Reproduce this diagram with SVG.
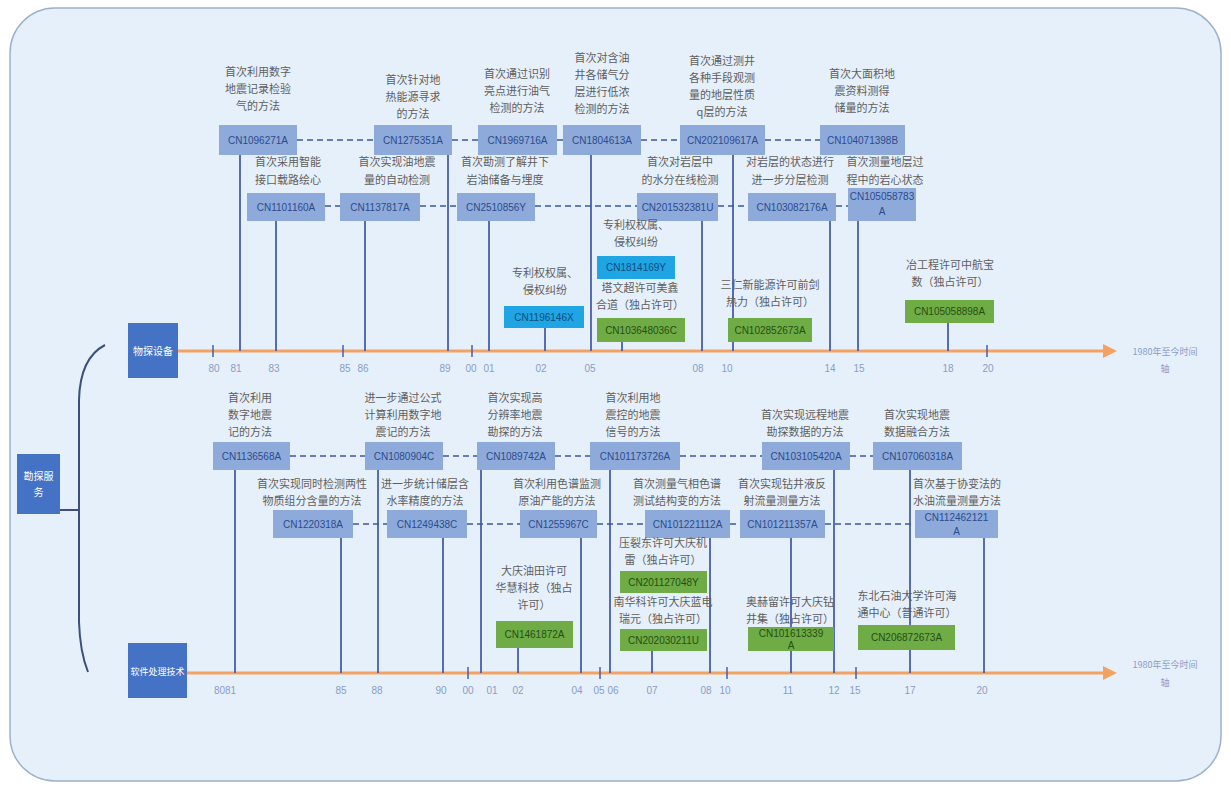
<svg xmlns="http://www.w3.org/2000/svg" width="1231" height="789" viewBox="0 0 1231 789">
<style>
.lbl{font-family:"Noto Sans CJK SC","Noto Sans",sans-serif;font-size:11px;fill:#5e5e5e;text-anchor:middle}
.pn{fill:#8eaadb}
.pt{font-family:"Liberation Sans",sans-serif;font-size:10px;fill:#2c4a8c;text-anchor:middle}
.cy{fill:#1fa4e4}
.cyt{font-family:"Liberation Sans",sans-serif;font-size:10px;fill:#0d4d7d;text-anchor:middle}
.gr{fill:#6fac46}
.grt{font-family:"Liberation Sans",sans-serif;font-size:10px;fill:#244f12;text-anchor:middle}
.ax{fill:#4472c4}
.axt{font-family:"Noto Sans CJK SC","Noto Sans",sans-serif;font-size:10px;fill:#ffffff;text-anchor:middle}
.tk{font-family:"Liberation Sans",sans-serif;font-size:10px;fill:#8a9cc6;text-anchor:middle}
.tl{font-family:"Noto Sans CJK SC","Noto Sans",sans-serif;font-size:9px;fill:#8a9cc6;text-anchor:middle}
.v{stroke:#4b5ea8;stroke-width:1.8;fill:none}
.d{stroke:#3b58a4;stroke-width:1.5;stroke-dasharray:6 4;fill:none}
.o{stroke:#f3a262;stroke-width:3;fill:none}
.t{stroke:#4b5ea8;stroke-width:1.5}
</style>
<rect x="10" y="8" width="1211" height="773" rx="45" fill="#e6f0fb" stroke="#9db1cc" stroke-width="1.5"/>

<g id="connectors">
<path class="o" d="M178 351 H1105"/>
<polygon points="1103,344 1117,351 1103,358" fill="#f3a262"/>
<path class="o" d="M187 673 H1105"/>
<polygon points="1103,666 1117,673 1103,680" fill="#f3a262"/>
<path d="M105 345 Q80 358 79 400 L79 622 Q80 652 88 672" stroke="#3d4f7a" stroke-width="2" fill="none"/>
<path d="M58 510 H79" stroke="#3d4f7a" stroke-width="2"/>
<path class="v" d="M240 155V351M276 221V351M365 221V351M448 155V351M489 221V351M545 328V351M591 155V351M622 342V351M702 221V351M733 155V351M830 221V351M858 221V351M948 323V351"/>
<path class="t" d="M213 345V357M343 345V357M472 345V357M987 345V357"/>
<path class="d" d="M297 140H374M452 140H478M557 140H563M641 140H680M765 140H820"/>
<path class="d" d="M325 206H340M420 206H457M535 206H637M718 206H748M836 206H848"/>
<path class="v" d="M235 470V673M341 538V673M378 470V673M443 538V673M481 470V673M518 648V673M581 538V673M610 470V673M652 651V673M710 538V673M791 538V673M834 470V673M910 470V673M984 538V673"/>
<path class="t" d="M468 667V679M600 667V679M727 667V679M856 667V679"/>
<path class="d" d="M290 456H365M443 456H477M555 456H590M680 456H762M850 456H873"/>
<path class="d" d="M353 524H387M467 524H520M597 524H645M730 524H740M825 524H915"/>
</g>

<g id="n-kantan"><rect class="ax" x="17" y="454" width="43" height="60"/><text class="axt" x="38.5" y="480">勘探服</text><text class="axt" x="38.5" y="496">务</text></g>
<g id="n-wutan"><rect class="ax" x="128" y="323" width="50" height="55"/><text class="axt" x="153" y="355">物探设备</text></g>
<g id="n-ruanjian"><rect class="ax" x="128" y="643" width="59" height="55"/><text class="axt" x="157.5" y="675" style="font-size:9px">软件处理技术</text></g>

<g id="axis-labels">
<text class="tl" x="1165" y="355">1980年至今时间</text><text class="tl" x="1165" y="372">轴</text>
<text class="tl" x="1165" y="668">1980年至今时间</text><text class="tl" x="1165" y="686">轴</text>
<text class="tk" x="214" y="372">80</text><text class="tk" x="236" y="372">81</text><text class="tk" x="274" y="372">83</text><text class="tk" x="345" y="372">85</text><text class="tk" x="363" y="372">86</text><text class="tk" x="445" y="372">89</text><text class="tk" x="471" y="372">00</text><text class="tk" x="489" y="372">01</text><text class="tk" x="541" y="372">02</text><text class="tk" x="590" y="372">05</text><text class="tk" x="698" y="372">08</text><text class="tk" x="727" y="372">10</text><text class="tk" x="830" y="372">14</text><text class="tk" x="859" y="372">15</text><text class="tk" x="948" y="372">18</text><text class="tk" x="988" y="372">20</text>
<text class="tk" x="225" y="694">8081</text><text class="tk" x="341" y="694">85</text><text class="tk" x="377" y="694">88</text><text class="tk" x="441" y="694">90</text><text class="tk" x="468" y="694">00</text><text class="tk" x="492" y="694">01</text><text class="tk" x="518" y="694">02</text><text class="tk" x="577" y="694">04</text><text class="tk" x="599" y="694">05</text><text class="tk" x="613" y="694">06</text><text class="tk" x="652" y="694">07</text><text class="tk" x="706" y="694">08</text><text class="tk" x="725" y="694">10</text><text class="tk" x="788" y="694">11</text><text class="tk" x="834" y="694">12</text><text class="tk" x="855" y="694">15</text><text class="tk" x="910" y="694">17</text><text class="tk" x="982" y="694">20</text>
</g>

<g id="t1"><text class="lbl" x="258" y="76">首次利用数字</text><text class="lbl" x="258" y="93">地震记录检验</text><text class="lbl" x="258" y="110">气的方法</text><rect class="pn" x="219" y="125" width="78" height="30"/><text class="pt" x="258" y="144">CN1096271A</text></g>
<g id="t2"><text class="lbl" x="413" y="84">首次针对地</text><text class="lbl" x="413" y="101">热能源寻求</text><text class="lbl" x="413" y="118">的方法</text><rect class="pn" x="374" y="125" width="78" height="30"/><text class="pt" x="413" y="144">CN1275351A</text></g>
<g id="t3"><text class="lbl" x="517" y="78">首次通过识别</text><text class="lbl" x="517" y="95">亮点进行油气</text><text class="lbl" x="517" y="112">检测的方法</text><rect class="pn" x="478" y="125" width="79" height="30"/><text class="pt" x="517.5" y="144">CN1969716A</text></g>
<g id="t4"><text class="lbl" x="602" y="62">首次对含油</text><text class="lbl" x="602" y="79">井各储气分</text><text class="lbl" x="602" y="96">层进行低浓</text><text class="lbl" x="602" y="113">检测的方法</text><rect class="pn" x="563" y="125" width="78" height="30"/><text class="pt" x="602" y="144">CN1804613A</text></g>
<g id="t5"><text class="lbl" x="722" y="65">首次通过测井</text><text class="lbl" x="722" y="82">各种手段观测</text><text class="lbl" x="722" y="99">量的地层性质</text><text class="lbl" x="722" y="116">q层的方法</text><rect class="pn" x="680" y="125" width="85" height="30"/><text class="pt" x="722.5" y="144">CN202109617A</text></g>
<g id="t6"><text class="lbl" x="862" y="78">首次大面积地</text><text class="lbl" x="862" y="95">震资料测得</text><text class="lbl" x="862" y="112">储量的方法</text><rect class="pn" x="820" y="125" width="85" height="30"/><text class="pt" x="862.5" y="144">CN104071398B</text></g>

<g id="t7"><text class="lbl" x="288" y="166">首次采用智能</text><text class="lbl" x="288" y="184">接口载路绘心</text><rect class="pn" x="247" y="193" width="78" height="28"/><text class="pt" x="286" y="211">CN1101160A</text></g>
<g id="t8"><text class="lbl" x="397" y="166">首次实现油地震</text><text class="lbl" x="397" y="184">量的自动检测</text><rect class="pn" x="340" y="193" width="80" height="28"/><text class="pt" x="380" y="211">CN1137817A</text></g>
<g id="t9"><text class="lbl" x="505" y="166">首次勘测了解井下</text><text class="lbl" x="505" y="184">岩油储备与埋度</text><rect class="pn" x="457" y="193" width="78" height="28"/><text class="pt" x="496" y="211">CN2510856Y</text></g>
<g id="t10"><text class="lbl" x="680" y="166">首次对岩层中</text><text class="lbl" x="680" y="184">的水分在线检测</text><rect class="pn" x="637" y="193" width="81" height="28"/><text class="pt" x="677.5" y="211">CN201532381U</text></g>
<g id="t11"><text class="lbl" x="790" y="166">对岩层的状态进行</text><text class="lbl" x="790" y="184">进一步分层检测</text><rect class="pn" x="748" y="193" width="88" height="28"/><text class="pt" x="792" y="211">CN103082176A</text></g>
<g id="t12"><text class="lbl" x="885" y="166">首次测量地层过</text><text class="lbl" x="885" y="184">程中的岩心状态</text><rect class="pn" x="848" y="188" width="68" height="33"/><text class="pt" x="882" y="200">CN105058783</text><text class="pt" x="882" y="215">A</text></g>

<g id="t13"><text class="lbl" x="545" y="277">专利权权属、</text><text class="lbl" x="545" y="294">侵权纠纷</text><rect class="cy" x="504" y="306" width="80" height="22"/><text class="cyt" x="544" y="321">CN1196146X</text></g>
<g id="t14"><text class="lbl" x="636" y="229">专利权权属、</text><text class="lbl" x="636" y="246">侵权纠纷</text><rect class="cy" x="597" y="256" width="78" height="23"/><text class="cyt" x="636" y="271">CN1814169Y</text></g>
<g id="t15"><text class="lbl" x="640" y="292">塔文超许可美鑫</text><text class="lbl" x="640" y="309">合道（独占许可）</text><rect class="gr" x="597" y="318" width="88" height="24"/><text class="grt" x="641" y="334">CN103648036C</text></g>
<g id="t16"><text class="lbl" x="770" y="289">三仁新能源许可前剑</text><text class="lbl" x="770" y="306">热力（独占许可）</text><rect class="gr" x="728" y="318" width="84" height="24"/><text class="grt" x="770" y="334">CN102852673A</text></g>
<g id="t17"><text class="lbl" x="950" y="269">冶工程许可中航宝</text><text class="lbl" x="950" y="286">数（独占许可）</text><rect class="gr" x="905" y="300" width="89" height="23"/><text class="grt" x="949.5" y="315">CN105058898A</text></g>

<g id="b1"><text class="lbl" x="250" y="402">首次利用</text><text class="lbl" x="250" y="419">数字地震</text><text class="lbl" x="250" y="436">记的方法</text><rect class="pn" x="213" y="442" width="77" height="28"/><text class="pt" x="251.5" y="460">CN1136568A</text></g>
<g id="b2"><text class="lbl" x="403" y="402">进一步通过公式</text><text class="lbl" x="403" y="419">计算利用数字地</text><text class="lbl" x="403" y="436">震记的方法</text><rect class="pn" x="365" y="442" width="78" height="28"/><text class="pt" x="404" y="460">CN1080904C</text></g>
<g id="b3"><text class="lbl" x="515" y="402">首次实现高</text><text class="lbl" x="515" y="419">分辨率地震</text><text class="lbl" x="515" y="436">勘探的方法</text><rect class="pn" x="477" y="442" width="78" height="28"/><text class="pt" x="516" y="460">CN1089742A</text></g>
<g id="b4"><text class="lbl" x="633" y="402">首次利用地</text><text class="lbl" x="633" y="419">震控的地震</text><text class="lbl" x="633" y="436">信号的方法</text><rect class="pn" x="590" y="442" width="90" height="28"/><text class="pt" x="635" y="460">CN101173726A</text></g>
<g id="b5"><text class="lbl" x="805" y="419">首次实现远程地震</text><text class="lbl" x="805" y="436">勘探数据的方法</text><rect class="pn" x="762" y="442" width="88" height="28"/><text class="pt" x="806" y="460">CN103105420A</text></g>
<g id="b6"><text class="lbl" x="917" y="419">首次实现地震</text><text class="lbl" x="917" y="436">数据融合方法</text><rect class="pn" x="873" y="442" width="89" height="28"/><text class="pt" x="917.5" y="460">CN107060318A</text></g>

<g id="b7"><text class="lbl" x="312" y="488">首次实现同时检测两性</text><text class="lbl" x="312" y="505">物质组分含量的方法</text><rect class="pn" x="273" y="510" width="80" height="28"/><text class="pt" x="313" y="528">CN1220318A</text></g>
<g id="b8"><text class="lbl" x="425" y="488">进一步统计储层含</text><text class="lbl" x="425" y="505">水率精度的方法</text><rect class="pn" x="387" y="510" width="80" height="28"/><text class="pt" x="427" y="528">CN1249438C</text></g>
<g id="b9"><text class="lbl" x="557" y="488">首次利用色谱监测</text><text class="lbl" x="557" y="505">原油产能的方法</text><rect class="pn" x="520" y="510" width="77" height="28"/><text class="pt" x="558.5" y="528">CN1255967C</text></g>
<g id="b10"><text class="lbl" x="677" y="488">首次测量气相色谱</text><text class="lbl" x="677" y="505">测试结构变的方法</text><rect class="pn" x="645" y="510" width="85" height="28"/><text class="pt" x="687.5" y="528">CN101221112A</text></g>
<g id="b11"><text class="lbl" x="782" y="488">首次实现钻井液反</text><text class="lbl" x="782" y="505">射流量测量方法</text><rect class="pn" x="740" y="510" width="85" height="28"/><text class="pt" x="782.5" y="528">CN101211357A</text></g>
<g id="b12"><text class="lbl" x="957" y="488">首次基于协变法的</text><text class="lbl" x="957" y="505">水油流量测量方法</text><rect class="pn" x="915" y="510" width="83" height="28"/><text class="pt" x="956.5" y="521">CN112462121</text><text class="pt" x="956.5" y="535">A</text></g>

<g id="b13"><text class="lbl" x="534" y="575">大庆油田许可</text><text class="lbl" x="534" y="592">华慧科技（独占</text><text class="lbl" x="534" y="609">许可）</text><rect class="gr" x="496" y="621" width="77" height="27"/><text class="grt" x="534.5" y="638">CN1461872A</text></g>
<g id="b14"><text class="lbl" x="663" y="547">压裂东许可大庆机</text><text class="lbl" x="663" y="564">雷（独占许可）</text><rect class="gr" x="620" y="571" width="87" height="22"/><text class="grt" x="663.5" y="586">CN201127048Y</text></g>
<g id="b15"><text class="lbl" x="663" y="606">南华科许可大庆蓝电</text><text class="lbl" x="663" y="623">瑞元（独占许可）</text><rect class="gr" x="620" y="629" width="87" height="22"/><text class="grt" x="663.5" y="644">CN202030211U</text></g>
<g id="b16"><text class="lbl" x="790" y="606">奥赫留许可大庆钻</text><text class="lbl" x="790" y="623">井集（独占许可）</text><rect class="gr" x="748" y="627" width="86" height="24"/><text class="grt" x="791" y="637">CN101613339</text><text class="grt" x="791" y="649">A</text></g>
<g id="b17"><text class="lbl" x="907" y="600">东北石油大学许可海</text><text class="lbl" x="907" y="617">通中心（普通许可）</text><rect class="gr" x="858" y="625" width="97" height="25"/><text class="grt" x="906.5" y="641">CN206872673A</text></g>
</svg>
